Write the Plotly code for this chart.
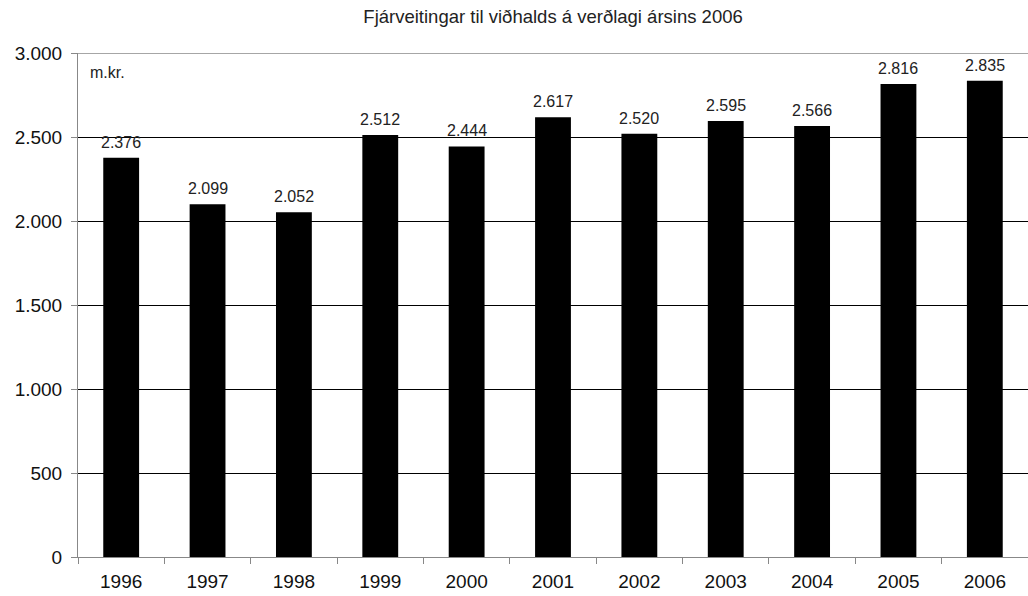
import plotly.graph_objects as go

years = ["1996", "1997", "1998", "1999", "2000", "2001", "2002", "2003", "2004", "2005", "2006"]
values = [2376, 2099, 2052, 2512, 2444, 2617, 2520, 2595, 2566, 2816, 2835]
y_ticks = [0, 500, 1000, 1500, 2000, 2500, 3000]

fig = go.Figure()

fig.add_trace(go.Bar(
    x=years,
    y=values,
    width=0.415,
    marker=dict(color="black", line=dict(width=0)),
    showlegend=False
))

# value labels above the bars (category index used as x position)
for i, v in enumerate(values):
    fig.add_annotation(
        x=i, y=v, text=f"{v:,}".replace(",", "."),
        showarrow=False, yanchor="bottom", yshift=5,
        font=dict(size=16, color="#222222")
    )

fig.add_annotation(
    xref="paper", yref="paper", x=0.011, y=0.982,
    xanchor="left", yanchor="top",
    text="m.kr.", showarrow=False,
    font=dict(size=16, color="#222222")
)

fig.update_layout(
    title=dict(
        text="Fjárveitingar til viðhalds á verðlagi ársins 2006",
        x=0.538, xanchor="center", y=0.972, yanchor="middle",
        font=dict(size=18.5, color="#222222")
    ),
    font=dict(family="Liberation Sans, Arial, sans-serif", color="#111111"),
    separators=",.",
    width=1028, height=596,
    margin=dict(l=78, r=0, t=53, b=39),
    plot_bgcolor="white",
    paper_bgcolor="white",
    xaxis=dict(
        type="category",
        range=[-0.5, 10.5],
        tickson="boundaries",
        ticks="outside", ticklen=6, tickcolor="#888888",
        ticklabelstandoff=7,
        showline=True, linecolor="#888888", linewidth=1,
        showgrid=False,
        tickfont=dict(size=19),
        fixedrange=True
    ),
    yaxis=dict(
        range=[0, 3000],
        tickvals=y_ticks,
        tickformat=",d",
        ticks="outside", ticklen=6, tickcolor="#888888",
        ticklabelstandoff=5,
        showline=True, linecolor="#888888", linewidth=1,
        showgrid=True, gridcolor="black", gridwidth=1.3,
        zeroline=False,
        tickfont=dict(size=19),
        fixedrange=True
    )
)

# top border of the plot area
fig.add_shape(type="line", xref="paper", yref="y", x0=0, x1=1, y0=3000, y1=3000,
              line=dict(color="#888888", width=1.5))

fig.write_html("out.html", config={"displayModeBar": False})

# drop the default page margin so the figure sits at the window origin
with open("out.html", encoding="utf-8") as f:
    page = f.read()
page = page.replace("<body>", '<body style="margin:0;overflow:hidden">', 1)
with open("out.html", "w", encoding="utf-8") as f:
    f.write(page)
